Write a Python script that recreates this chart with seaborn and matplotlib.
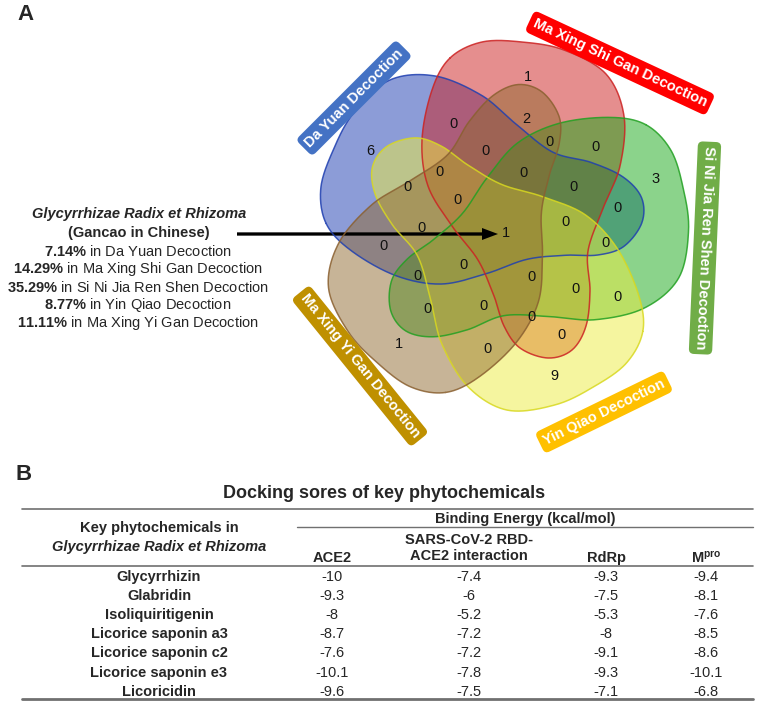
import matplotlib
matplotlib.use("Agg")
import matplotlib.pyplot as plt
import seaborn as sns
import numpy as np
import pandas as pd

# ---- data ----
decoctions = ['Da Yuan Decoction', 'Ma Xing Shi Gan Decoction', 'Si Ni Jia Ren Shen Decoction',
              'Yin Qiao Decoction', 'Ma Xing Yi Gan Decoction']
gancao_pct = [7.14, 14.29, 35.29, 8.77, 11.11]

# counts of the 31 venn regions (same order as region_xy below)
region_counts = [1, 0, 2, 6, 0, 0, 0, 3, 0, 0, 0, 0, 0, 0, 0, 0,
                 1, 0, 0, 0, 0, 0, 0, 0, 0, 0, 0, 0, 1, 0, 9]

compounds = ['Glycyrrhizin', 'Glabridin', 'Isoliquiritigenin', 'Licorice saponin a3',
             'Licorice saponin c2', 'Licorice saponin e3', 'Licoricidin']
ace2 = [-10, -9.3, -8, -8.7, -7.6, -10.1, -9.6]
rbd_ace2 = [-7.4, -6, -5.2, -7.2, -7.2, -7.8, -7.5]
rdrp = [-9.3, -7.5, -5.3, -8, -9.1, -9.3, -7.1]
mpro = [-9.4, -8.1, -7.6, -8.5, -8.6, -10.1, -6.8]

# ---- layout (pixel coordinates) ----
region_xy = [(528, 77), (453, 124), (526, 119), (370, 151), (486, 151), (549, 142), (596, 147),
             (656, 179), (439, 172), (407, 187), (524, 173), (573, 187), (457, 200), (617, 208),
             (566, 222), (422, 228), (506, 233), (606, 243), (384, 246), (463, 265), (418, 276),
             (532, 277), (575, 289), (617, 297), (428, 309), (483, 306), (531, 317), (561, 335),
             (399, 344), (487, 349), (554, 376)]

center = np.array([502.0, 226.0])
blob_angles = [198, -90, -18, 54, 126]
blob_fill = ['#1a3ab0', '#cc1f1f', '#18a818', '#ecec40', '#916a30']
blob_edge = ['#1f3fb0', '#cc2222', '#22a022', '#d8d820', '#8a6030']

# one petal shape in local coords: u = outward, v = clockwise side
petal = np.array([(168, -52), (184, -20), (184, 20), (176, 62), (152, 104), (110, 122),
                  (60, 118), (20, 102), (-25, 86), (-65, 88), (-100, 84), (-124, 70),
                  (-132, 46), (-122, 18), (-100, 2), (-70, -8), (-34, -24), (0, -50),
                  (40, -74), (86, -80), (136, -70)], dtype=float)

box_xy = [(354, 98), (620, 63), (705, 248), (604, 412), (360, 366)]
box_rot = [45, -25, -92.5, 26, -51]
box_colors = ['#4472C4', '#FF0000', '#70AD47', '#FFC000', '#BF9000']


def smooth_closed(pts, n=24):
    P = np.asarray(pts)
    N = len(P)
    t = np.linspace(0, 1, n, endpoint=False)[:, None]
    out = []
    for i in range(N):
        p0, p1, p2, p3 = P[i - 1], P[i], P[(i + 1) % N], P[(i + 2) % N]
        out.append(0.5 * (2 * p1 + (-p0 + p2) * t + (2 * p0 - 5 * p1 + 4 * p2 - p3) * t ** 2
                          + (-p0 + 3 * p1 - 3 * p2 + p3) * t ** 3))
    return np.vstack(out)


sns.set_theme(style='white')
plt.rcParams['font.family'] = ['Liberation Sans', 'DejaVu Sans']
plt.rcParams['mathtext.fontset'] = 'custom'
plt.rcParams['mathtext.rm'] = 'Liberation Sans'
plt.rcParams['mathtext.bf'] = 'Liberation Sans:bold'
plt.rcParams['mathtext.it'] = 'Liberation Sans:italic'

fig = plt.figure(figsize=(7.58, 7.08), dpi=100)
ax = fig.add_axes([0, 0, 1, 1])
ax.set_xlim(0, 758)
ax.set_ylim(708, 0)
ax.axis('off')

# ---- panel A: venn ----
curve = smooth_closed(petal)
for ang, fc, ec in zip(blob_angles, blob_fill, blob_edge):
    a = np.deg2rad(ang)
    eu = np.array([np.cos(a), np.sin(a)])
    ev = np.array([np.cos(a + np.pi / 2), np.sin(a + np.pi / 2)])
    xy = center + curve[:, :1] * eu + curve[:, 1:] * ev
    ax.fill(xy[:, 0], xy[:, 1], color=fc, alpha=0.5, lw=0)
    ax.plot(np.r_[xy[:, 0], xy[0, 0]], np.r_[xy[:, 1], xy[0, 1]], color=ec, lw=1.1, alpha=0.85)

for (x, y), c in zip(region_xy, region_counts):
    ax.text(x, y, str(c), ha='center', va='center', fontsize=10.5, color='#111111')

for name, (x, y), rot, col in zip(decoctions, box_xy, box_rot, box_colors):
    ax.text(x, y, name, ha='center', va='center', rotation=rot, rotation_mode='anchor',
            fontsize=10.5, fontweight='bold', color='white',
            bbox=dict(boxstyle='round,pad=0.32,rounding_size=0.35', fc=col, ec='none'))

ax.text(25, 15, 'A', ha='center', va='center', fontsize=16, fontweight='bold')

ax.text(139, 214, 'Glycyrrhizae Radix et Rhizoma', ha='center', va='center',
        fontsize=10.5, fontweight='bold', fontstyle='italic')
ax.text(139, 233, '(Gancao in Chinese)', ha='center', va='center', fontsize=10.5, fontweight='bold')
for i, (p, name) in enumerate(zip(gancao_pct, decoctions)):
    ax.text(138, 251 + 18 * i, r'$\mathbf{%.2f\%%}$ in %s' % (p, name), ha='center', va='center',
            fontsize=10.5)

ax.arrow(237, 234, 245, 0, width=3.3, head_width=12, head_length=16, color='black', lw=0)

# ---- panel B: table ----
ax.text(24, 475, 'B', ha='center', va='center', fontsize=16, fontweight='bold')
ax.text(384, 493, 'Docking sores of key phytochemicals', ha='center', va='center',
        fontsize=13, fontweight='bold')

line_col = '#707070'
ax.plot([22, 753], [509, 509], color=line_col, lw=1.2)
ax.plot([297, 753], [527, 527], color=line_col, lw=1.0)
ax.plot([22, 753], [566, 566], color=line_col, lw=1.2)
ax.plot([22, 753], [699, 699], color=line_col, lw=2.0)

ax.text(159, 528, 'Key phytochemicals in', ha='center', va='center', fontsize=10.5, fontweight='bold')
ax.text(159, 547, 'Glycyrrhizae Radix et Rhizoma', ha='center', va='center', fontsize=10.5,
        fontweight='bold', fontstyle='italic')
ax.text(525, 519, 'Binding Energy (kcal/mol)', ha='center', va='center', fontsize=10.5, fontweight='bold')

table = pd.DataFrame({'ACE2': ace2, 'SARS-CoV-2 RBD-\nACE2 interaction': rbd_ace2,
                      'RdRp': rdrp, r'M$^{\mathbf{pro}}$': mpro}, index=compounds)
col_x = [332, 469, 606, 706]
header_y = [558, 548, 558, 558]
for cx, hy, col in zip(col_x, header_y, table.columns):
    ax.text(cx, hy, col, ha='center', va='center', fontsize=10.5, fontweight='bold',
            linespacing=1.15)

row_y = [577, 596, 615, 634, 653, 673, 692]
for ry, (name, row) in zip(row_y, table.iterrows()):
    ax.text(159, ry, name, ha='center', va='center', fontsize=10.5, fontweight='bold')
    for cx, v in zip(col_x, row.values):
        ax.text(cx, ry, f'{v:g}', ha='center', va='center', fontsize=10.5)

fig.savefig('out.png', dpi=100)
